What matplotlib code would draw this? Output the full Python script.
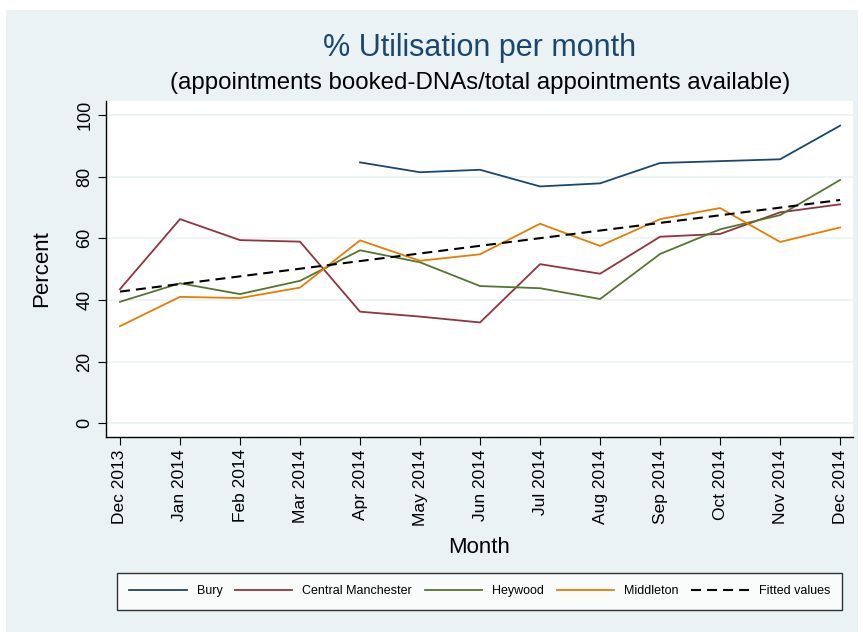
import matplotlib
matplotlib.use("Agg")
import matplotlib.pyplot as plt
from matplotlib.patches import Rectangle
import numpy as np

months = ["Dec 2013", "Jan 2014", "Feb 2014", "Mar 2014", "Apr 2014", "May 2014",
          "Jun 2014", "Jul 2014", "Aug 2014", "Sep 2014", "Oct 2014", "Nov 2014", "Dec 2014"]
nan = np.nan
bury = [nan, nan, nan, nan, 84.6, 81.4, 82.2, 76.8, 77.8, 84.4, 85.0, 85.6, 96.5]
central_manchester = [43.5, 66.2, 59.4, 58.9, 36.2, 34.6, 32.7, 51.6, 48.5, 60.5, 61.4, 68.4, 71.0]
heywood = [39.4, 45.4, 41.9, 46.2, 56.1, 52.2, 44.5, 43.8, 40.3, 54.9, 62.9, 67.5, 78.9]
middleton = [31.5, 41.0, 40.6, 44.0, 59.3, 52.7, 54.8, 64.7, 57.5, 66.2, 69.8, 58.8, 63.5]
fitted_ends = [42.7, 72.4]
y_ticks = [0, 20, 40, 60, 80, 100]

BG = "#EAF2F3"
W, H = 863, 632
fig = plt.figure(figsize=(W / 100, H / 100), dpi=100)
fig.patch.set_facecolor("white")
fig.add_artist(Rectangle((6 / W, 0), (858 - 6) / W, (H - 10) / H, transform=fig.transFigure,
                         facecolor=BG, edgecolor="none", zorder=-10))

FONT = ["Liberation Sans", "DejaVu Sans"]
plt.rcParams["font.family"] = FONT

left, right, top, bottom = 105.7, 853.3, 101, 436.7
ax = fig.add_axes([left / W, 1 - bottom / H, (right - left) / W, (bottom - top) / H])
ax.set_facecolor("white")

x = np.arange(len(months))
ax.plot(x, bury, color="#1A476F", lw=1.3, label="Bury")
ax.plot(x, central_manchester, color="#90353B", lw=1.3, label="Central Manchester")
ax.plot(x, heywood, color="#55752F", lw=1.3, label="Heywood")
ax.plot(x, middleton, color="#E37E00", lw=1.3, label="Middleton")
ax.plot([x[0], x[-1]], fitted_ends, color="black", lw=1.5, dashes=(4.8, 2.9), label="Fitted values")

ax.set_xlim(-0.238, 12.22)
ax.set_ylim(-4.34, 104.5)
ax.set_yticks(y_ticks)
ax.set_yticklabels([str(v) for v in y_ticks], rotation=90, va="center", fontsize=13)
ax.set_xticks(x)
ax.set_xticklabels(months, rotation=90, fontsize=12.5)
ax.tick_params(axis="both", direction="out", length=6, width=0.8, color="black", pad=3)
ax.grid(axis="y", color=BG, lw=1.2)
ax.set_axisbelow(True)
for s in ["top", "right"]:
    ax.spines[s].set_visible(False)
for s in ["left", "bottom"]:
    ax.spines[s].set_color("black")
    ax.spines[s].set_linewidth(1.0)

ax.set_ylabel("Percent", fontsize=16, labelpad=17)
ax.set_xlabel("Month", fontsize=16, labelpad=8)

fig.text(480 / W, 1 - 48 / H, "% Utilisation per month", ha="center", va="center",
         fontsize=22, color="#1A476F")
fig.text(480 / W, 1 - 83 / H, "(appointments booked-DNAs/total appointments available)",
         ha="center", va="center", fontsize=17.3, color="black")

lx0, lx1, ly0, ly1 = 113, 846, 571, 611
leg = fig.legend(loc="center", bbox_to_anchor=((lx0 + lx1) / 2 / W, 1 - (ly0 + ly1) / 2 / H),
                 ncol=5, frameon=True, fancybox=False, handlelength=4.6,
                 handletextpad=0.8, columnspacing=1.0, borderpad=1.0, borderaxespad=0,
                 prop={"family": FONT, "size": 9})
leg.get_frame().set_edgecolor("black")
leg.get_frame().set_linewidth(1.0)

fig.savefig("out.png", dpi=100, facecolor=fig.get_facecolor())
